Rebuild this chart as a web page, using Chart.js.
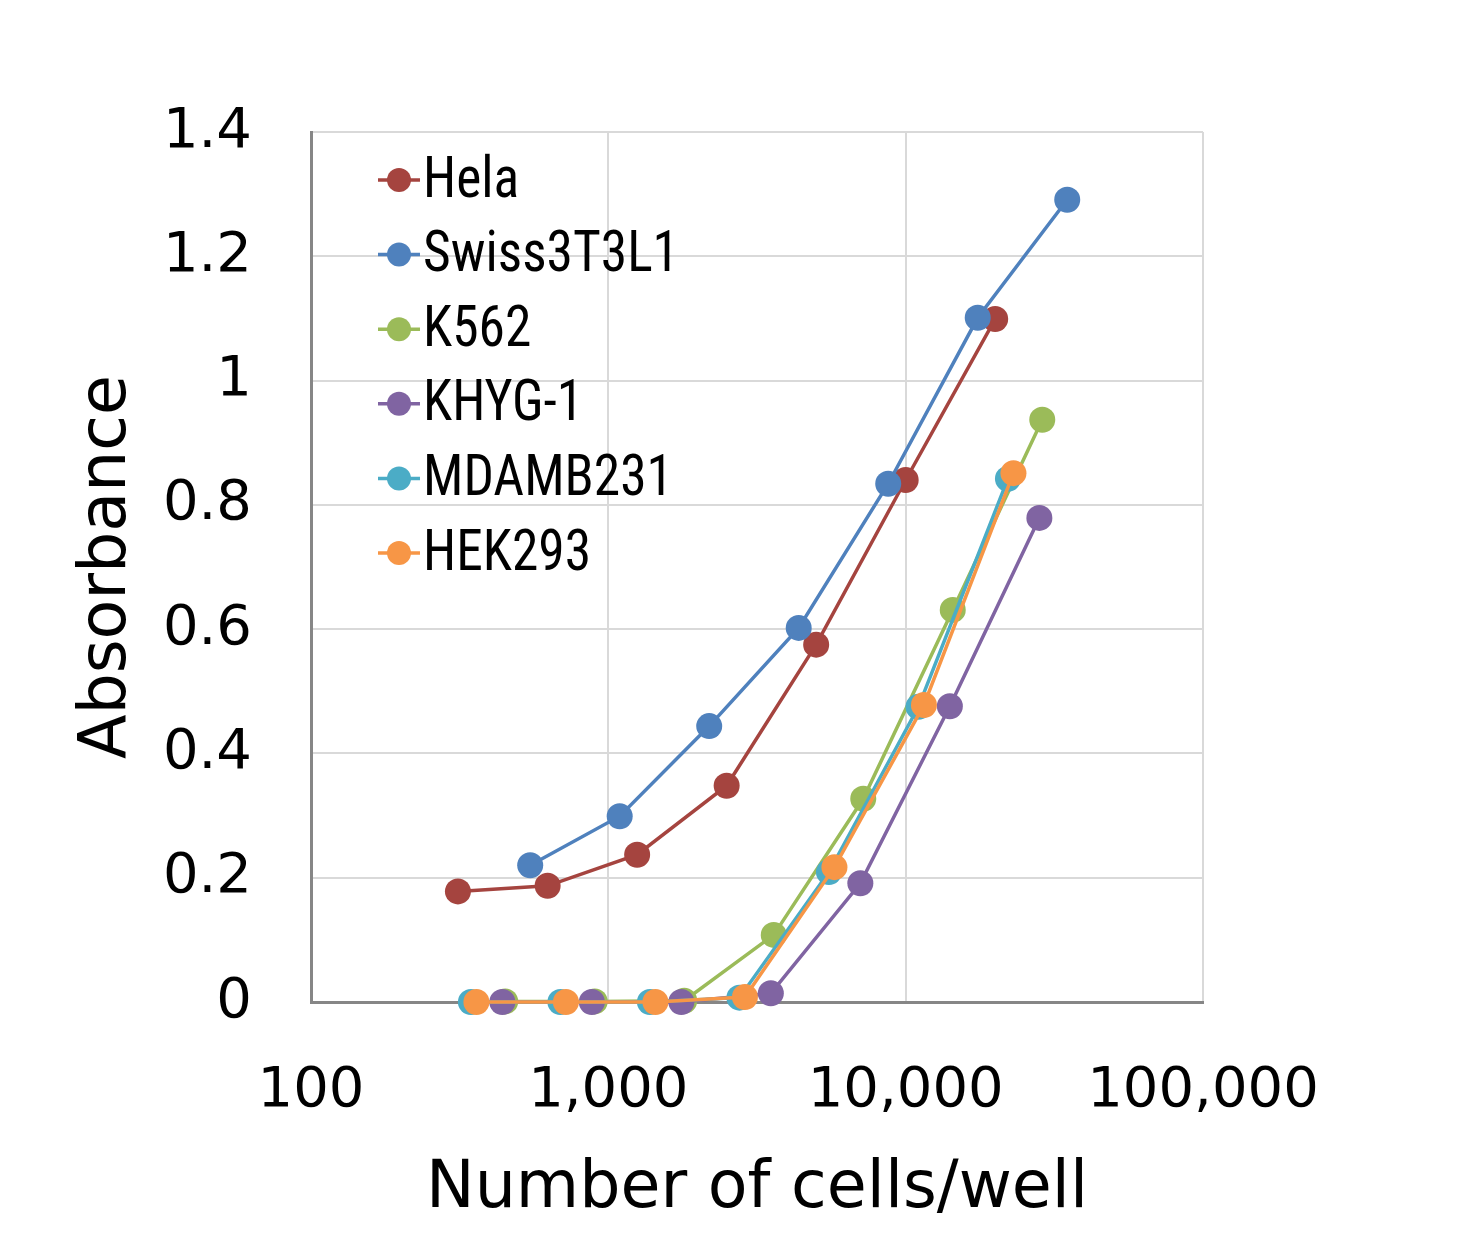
<!DOCTYPE html>
<html>
<head>
<meta charset="utf-8">
<script src="https://cdn.jsdelivr.net/npm/chart.js@4"></script>
<style>
  html, body { margin: 0; padding: 0; background: #fff; }
  #wrap { width: 1476px; height: 1239px; }
</style>
</head>
<body>
<div id="wrap"><canvas id="cellChart"></canvas></div>
<script>
// values
const seriesNames = ['Hela', 'Swiss3T3L1', 'K562', 'KHYG-1', 'MDAMB231', 'HEK293'];
const seriesColors = ['#A5443F', '#4F81BD', '#9BBB59', '#8064A2', '#4BACC6', '#F79646'];

const helaCells = [312, 625, 1250, 2500, 5000, 10000, 20000];
const helaAbs = [0.178, 0.187, 0.237, 0.348, 0.575, 0.840, 1.099];

const swissCells = [546, 1092, 2184, 4368, 8736, 17472, 34944];
const swissAbs = [0.220, 0.299, 0.444, 0.602, 0.834, 1.101, 1.291];

const k562Cells = [450, 900, 1800, 3600, 7200, 14400, 28800];
const k562Abs = [0.001, 0.001, 0.002, 0.108, 0.327, 0.631, 0.937];

const khygCells = [440, 880, 1760, 3520, 7040, 14080, 28160];
const khygAbs = [0.0, 0.0, 0.0, 0.014, 0.191, 0.476, 0.779];

const mdaCells = [345, 690, 1380, 2760, 5520, 11040, 22080];
const mdaAbs = [0.0, 0.0, 0.0, 0.007, 0.209, 0.475, 0.842];

const hekCells = [360, 720, 1440, 2880, 5760, 11520, 23040];
const hekAbs = [0.0, 0.0, 0.0, 0.008, 0.217, 0.478, 0.851];

const xTicks = [100, 1000, 10000, 100000];

const allCells = [helaCells, swissCells, k562Cells, khygCells, mdaCells, hekCells];
const allAbs = [helaAbs, swissAbs, k562Abs, khygAbs, mdaAbs, hekAbs];

const tickFont = { family: '"DejaVu Sans", Verdana, sans-serif', size: 56 };
const titleFont = { family: '"DejaVu Sans", Verdana, sans-serif', size: 65 };

const datasets = seriesNames.map((name, i) => ({
    label: name,
    data: allCells[i].map((c, j) => ({ x: c, y: allAbs[i][j] })),
    borderColor: seriesColors[i],
    backgroundColor: seriesColors[i],
    borderWidth: 3.5,
    pointRadius: 13,
    pointHoverRadius: 13,
    pointBorderWidth: 0,
    clip: false,
    order: seriesNames.length - i
}));

// legend drawn inside the plot area, top left
const insideLegend = {
    id: 'insideLegend',
    afterDraw(chart) {
        const ctx = chart.ctx;
        const area = chart.chartArea;
        const x0 = area.left + 67;
        const y0 = area.top + 48;
        const step = 74.6;
        ctx.save();
        ctx.font = '58px "Liberation Sans Narrow", "Arial Narrow", "Roboto Condensed", sans-serif';
        ctx.textBaseline = 'middle';
        ctx.textAlign = 'left';
        // squeeze text so the widest label is as wide as in the reference
        const squeeze = Math.min(1, 256 / ctx.measureText('Swiss3T3L1').width);
        chart.data.datasets.forEach((ds, i) => {
            const y = y0 + i * step;
            ctx.strokeStyle = ds.borderColor;
            ctx.lineWidth = 3.5;
            ctx.beginPath();
            ctx.moveTo(x0, y);
            ctx.lineTo(x0 + 42, y);
            ctx.stroke();
            ctx.fillStyle = ds.backgroundColor;
            ctx.beginPath();
            ctx.arc(x0 + 21, y, 12, 0, Math.PI * 2);
            ctx.fill();
            ctx.fillStyle = '#000';
            ctx.save();
            ctx.translate(x0 + 45, y + 2);
            ctx.scale(squeeze, 1);
            ctx.fillText(ds.label, 0, 0);
            ctx.restore();
        });
        ctx.restore();
    }
};

const ctx = document.getElementById('cellChart').getContext('2d');
new Chart(ctx, {
    type: 'line',
    data: { datasets: datasets },
    options: {
        responsive: true,
        maintainAspectRatio: false,
        devicePixelRatio: 1,
        animation: false,
        layout: { padding: { left: 0, top: 132, right: 273, bottom: 0 } },
        plugins: {
            legend: { display: false },
            tooltip: { enabled: false }
        },
        scales: {
            x: {
                type: 'logarithmic',
                min: 100,
                max: 100000,
                afterBuildTicks: scale => {
                    scale.ticks = xTicks.map(v => ({ value: v }));
                },
                afterFit: scale => { scale.height = 237; },
                grid: { color: '#D9D9D9', lineWidth: 2, drawTicks: false },
                border: { color: '#868686', width: 3 },
                ticks: {
                    font: tickFont,
                    color: '#000',
                    padding: 56,
                    maxRotation: 0,
                    autoSkip: false,
                    callback: v => Number(v).toLocaleString('en-US')
                },
                title: {
                    display: true,
                    text: 'Number of cells/well',
                    font: titleFont,
                    color: '#000',
                    padding: { top: 0, bottom: 10 }
                }
            },
            y: {
                min: 0,
                max: 1.4,
                afterFit: scale => { scale.width = 311; },
                grid: { color: '#D9D9D9', lineWidth: 2, drawTicks: false },
                border: { color: '#868686', width: 3 },
                ticks: {
                    stepSize: 0.2,
                    font: tickFont,
                    color: '#000',
                    padding: 59,
                    callback: v => String(Math.round(v * 10) / 10)
                },
                title: {
                    display: true,
                    text: 'Absorbance',
                    font: titleFont,
                    color: '#000',
                    padding: { top: 69, bottom: 0 }
                }
            }
        }
    },
    plugins: [insideLegend]
});
</script>
</body>
</html>
